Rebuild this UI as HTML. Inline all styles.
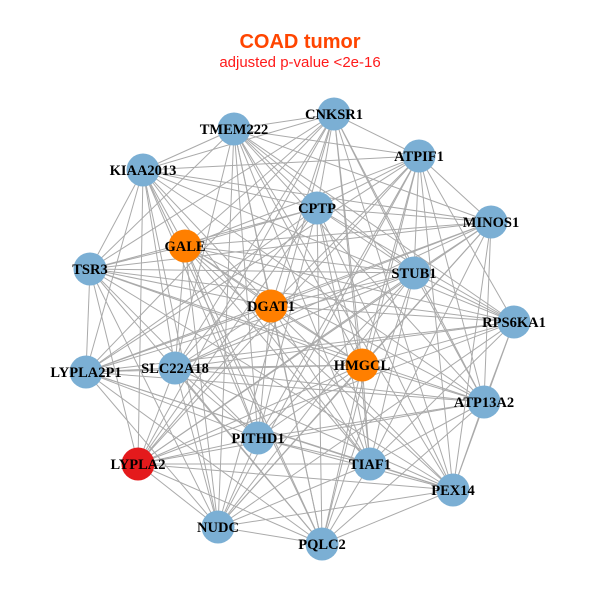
<!DOCTYPE html>
<html><head><meta charset="utf-8"><style>
html,body{margin:0;padding:0;background:#fff;width:600px;height:600px;overflow:hidden}
</style></head><body>
<svg id="s" width="600" height="600" xmlns="http://www.w3.org/2000/svg">
<text x="300" y="48" text-anchor="middle" font-family="Liberation Sans, sans-serif" font-weight="bold" font-size="20" fill="#FF4500">COAD tumor</text>
<text x="300" y="67" text-anchor="middle" font-family="Liberation Sans, sans-serif" font-size="15" fill="#FF1A1A">adjusted p-value &lt;2e-16</text>
<g id="e" stroke="#aaaaaa" stroke-width="1"></g>
<g id="n"></g>
<g id="t" font-family="Liberation Serif, serif" font-weight="bold" font-size="14.5" text-anchor="middle" fill="#000"></g>
</svg>
<script>
var N=[["CNKSR1",334,114,0],["TMEM222",234,129,0],["ATPIF1",419,156,0],["KIAA2013",143,170,0],["CPTP",317,208,0],["MINOS1",491,222,0],["GALE",185,246,1],["TSR3",90,269,0],["STUB1",414,273,0],["DGAT1",271,306,1],["RPS6KA1",514,322,0],["LYPLA2P1",86,372,0],["SLC22A18",175,368,0],["HMGCL",362,365,1],["ATP13A2",484,402,0],["PITHD1",258,438,0],["LYPLA2",138,464,2],["TIAF1",370,464,0],["PEX14",453,490,0],["NUDC",218,527,0],["PQLC2",322,544,0]];
var C=["#7BAFD4","#FF7F00","#E41A1C"];
var ns="http://www.w3.org/2000/svg";
var e=document.getElementById("e"),n=document.getElementById("n"),t=document.getElementById("t");
for(var i=0;i<N.length;i++)for(var j=i+1;j<N.length;j++){
 if((i*7+j*13)%5==0)continue;
 var l=document.createElementNS(ns,"line");
 l.setAttribute("x1",N[i][1]);l.setAttribute("y1",N[i][2]);l.setAttribute("x2",N[j][1]);l.setAttribute("y2",N[j][2]);e.appendChild(l);}
N.forEach(function(d){var c=document.createElementNS(ns,"circle");c.setAttribute("cx",d[1]);c.setAttribute("cy",d[2]);c.setAttribute("r",16.5);c.setAttribute("fill",C[d[3]]);n.appendChild(c);
var x=document.createElementNS(ns,"text");x.setAttribute("x",d[1]);x.setAttribute("y",d[2]+5);x.textContent=d[0];t.appendChild(x);});
</script>
</body></html>
